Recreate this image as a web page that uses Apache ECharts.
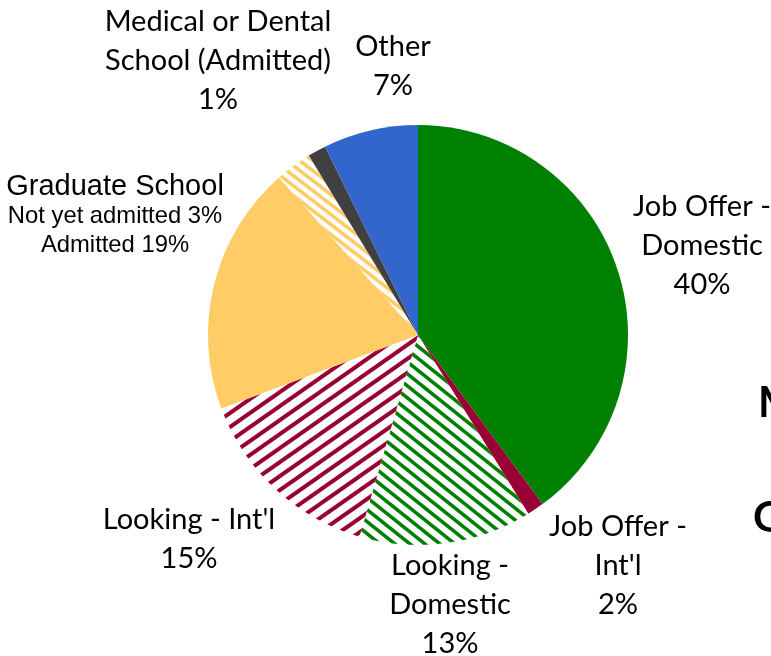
<!DOCTYPE html>
<html>
<head>
<meta charset="utf-8">
<script src="https://cdn.jsdelivr.net/npm/echarts@6/dist/echarts.min.js"></script>
<style>
  html, body { margin: 0; padding: 0; background: #fff; }
  #chart { width: 771px; height: 656px; }
</style>
</head>
<body>
<div id="chart"></div>
<script>
// slice names (clockwise from 12 o'clock) and their shares
var names = ['Job Offer - Domestic', "Job Offer - Int'l", 'Looking - Domestic', "Looking - Int'l",
             'Graduate School Admitted', 'Graduate School Not yet admitted', 'Medical or Dental School (Admitted)', 'Other'];
var values = [39.9, 1.3, 13.3, 14.8, 19.2, 2.8, 1.4, 7.3];
var pctText = ['40%', '2%', '13%', '15%', '19%', '3%', '1%', '7%'];
var labelText = ['Job Offer -\nDomestic', "Job Offer -\nInt'l", 'Looking -\nDomestic', "Looking - Int'l",
                 'Graduate School', 'Not yet admitted', 'Medical or Dental\nSchool (Admitted)', 'Other'];

// label centres
var labelPos = [[702, 246], [618, 566], [450, 605], [189, 539], [115, 216], null, [218, 61], [393, 66]];

function stripes(color, w, h, lw, mirror) {
    var c = document.createElement('canvas');
    c.width = w;
    c.height = h;
    var ctx = c.getContext('2d');
    ctx.fillStyle = '#fff';
    ctx.fillRect(0, 0, w, h);
    if (mirror) {
        ctx.translate(w, 0);
        ctx.scale(-1, 1);
    }
    ctx.strokeStyle = color;
    ctx.lineWidth = lw;
    for (var k = 0; k <= 2; k++) {
        ctx.beginPath();
        ctx.moveTo(-w * 2, h * (k + 2));
        ctx.lineTo(w * (k + 2), -h * 2);
        ctx.stroke();
    }
    return { image: c, repeat: 'repeat' };
}

var colors = [
    '#008000',
    '#990033',
    stripes('#008000', 15, 12, 3.6, true),
    stripes('#990033', 20, 14, 4, false),
    '#ffcc66',
    stripes('#ffcc66', 13, 10, 3.6, true),
    '#404040',
    '#3366cc'
];

var data = [];
for (var i = 0; i < names.length; i++) {
    var lbl;
    if (i == 4) {
        lbl = '{g|' + labelText[4] + '}\n{s|' + labelText[5] + ' ' + pctText[5] + '}\n{s|Admitted ' + pctText[4] + '}';
    } else {
        lbl = labelText[i] + '\n' + pctText[i];
    }
    data.push({
        name: names[i],
        value: values[i],
        itemStyle: { color: colors[i] },
        label: { show: i != 5, formatter: lbl }
    });
}

var myChart = echarts.init(document.getElementById('chart'), null, { renderer: 'canvas' });
var option = {
    backgroundColor: '#fff',
    animation: false,
    series: [{
        type: 'pie',
        center: [418, 335],
        radius: 210,
        startAngle: 90,
        clockwise: true,
        avoidLabelOverlap: false,
        emphasis: { disabled: true },
        labelLine: { show: false },
        label: {
            position: 'outside',
            color: '#000',
            fontFamily: 'Lato',
            fontSize: 29,
            lineHeight: 39,
            align: 'center',
            rich: {
                g: { fontFamily: 'Liberation Sans', fontSize: 29, lineHeight: 30, color: '#000' },
                s: { fontFamily: 'Liberation Sans', fontSize: 23.8, lineHeight: 29, color: '#000' }
            }
        },
        labelLayout: function(params) {
            var p = labelPos[params.dataIndex];
            if (!p) return {};
            return { x: p[0], y: p[1], align: 'center', verticalAlign: 'middle' };
        },
        data: data
    }],
    graphic: [
        { type: 'text', left: 758, top: 382, style: { text: 'M', font: 'bold 42px Lato', fill: '#000' } },
        { type: 'text', left: 753, top: 497, style: { text: 'G', font: 'bold 42px Lato', fill: '#000' } }
    ]
};
myChart.setOption(option);
</script>
</body>
</html>
